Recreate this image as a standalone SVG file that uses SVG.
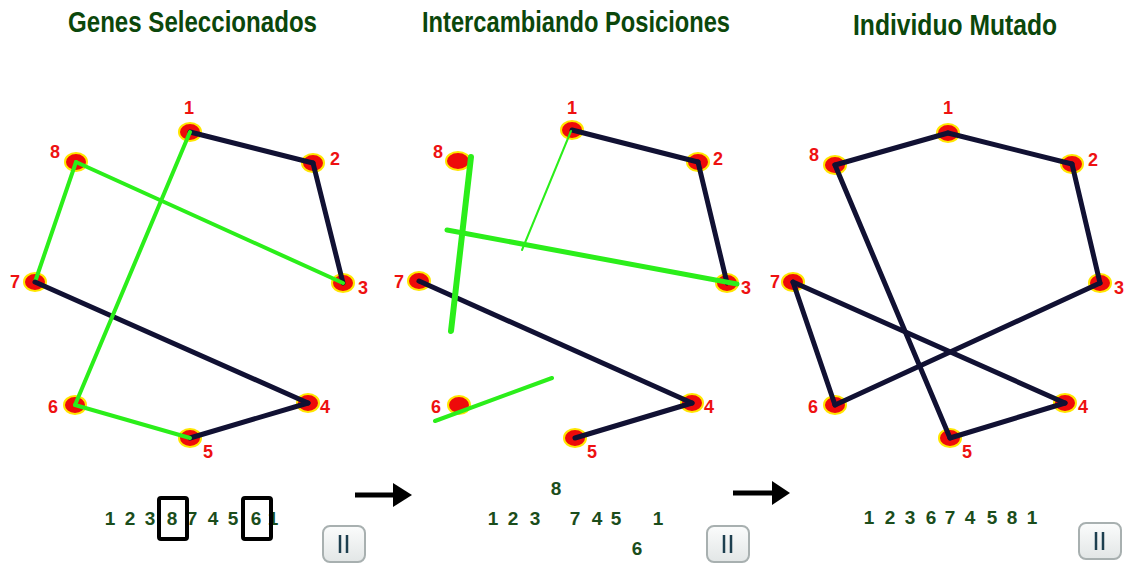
<svg xmlns="http://www.w3.org/2000/svg" width="1125" height="565" viewBox="0 0 1125 565">
<style>
.title{font-family:"Liberation Sans",Arial,sans-serif;font-weight:bold;font-size:29px;fill:#0b470b}
.nd ellipse{fill:#ee0a0a;stroke:#ffe600;stroke-width:2}
.nd text{font-family:"Liberation Sans",Arial,sans-serif;font-weight:bold;font-size:18px;fill:#ee1111;text-anchor:middle}
.dk{stroke:#111133;stroke-width:5;stroke-linecap:round;fill:none}
.gr{stroke:#2bee1a;stroke-width:4;stroke-linecap:round;fill:none}
.num{font-family:"Liberation Sans",Arial,sans-serif;font-weight:bold;font-size:19px;fill:#1b4d1b;text-anchor:middle}
.box{fill:none;stroke:#000;stroke-width:4}
.btn rect{fill:#f0f2f2;stroke:#a8b0b0;stroke-width:2}
.btn line{stroke:#1d3f4f;stroke-width:2.5}
.arr{stroke:#000;stroke-width:5}
</style>
<defs>
<linearGradient id="bg" x1="0" y1="0" x2="0" y2="1"><stop offset="0" stop-color="#fbfcfc"/><stop offset="1" stop-color="#e2e6e6"/></linearGradient>
</defs>
<rect width="1125" height="565" fill="#ffffff"/>
<text class="title" x="68" y="32" textLength="249" lengthAdjust="spacingAndGlyphs">Genes  Seleccionados</text>
<text class="title" x="422" y="32" textLength="308" lengthAdjust="spacingAndGlyphs">Intercambiando Posiciones</text>
<text class="title" x="853" y="35" textLength="204" lengthAdjust="spacingAndGlyphs">Individuo Mutado</text>

<!-- Panel 1 nodes -->
<g id="p1n1" class="nd"><ellipse cx="190" cy="132" rx="11" ry="9"/><text x="189" y="114">1</text></g>
<g id="p1n2" class="nd"><ellipse cx="313" cy="163" rx="11" ry="9"/><text x="335" y="165">2</text></g>
<g id="p1n3" class="nd"><ellipse cx="343" cy="283" rx="11" ry="9"/><text x="363" y="294">3</text></g>
<g id="p1n4" class="nd"><ellipse cx="308" cy="403" rx="11" ry="9"/><text x="325" y="413">4</text></g>
<g id="p1n5" class="nd"><ellipse cx="190" cy="438" rx="11" ry="9"/><text x="208" y="458">5</text></g>
<g id="p1n6" class="nd"><ellipse cx="75" cy="405" rx="11" ry="9"/><text x="53" y="413">6</text></g>
<g id="p1n7" class="nd"><ellipse cx="35" cy="282" rx="11" ry="9"/><text x="15" y="288">7</text></g>
<g id="p1n8" class="nd"><ellipse cx="76" cy="162" rx="11" ry="9"/><text x="55" y="158">8</text></g>

<!-- Panel 2 nodes -->
<g id="p2n1" class="nd"><ellipse cx="572" cy="130" rx="11" ry="9"/><text x="572" y="114">1</text></g>
<g id="p2n2" class="nd"><ellipse cx="698" cy="162" rx="11" ry="9"/><text x="718" y="165">2</text></g>
<g id="p2n3" class="nd"><ellipse cx="727" cy="283" rx="11" ry="9"/><text x="746" y="294">3</text></g>
<g id="p2n4" class="nd"><ellipse cx="692" cy="403" rx="11" ry="9"/><text x="709" y="413">4</text></g>
<g id="p2n5" class="nd"><ellipse cx="575" cy="438" rx="11" ry="9"/><text x="592" y="458">5</text></g>
<g id="p2n6" class="nd"><ellipse cx="459" cy="405" rx="11" ry="9"/><text x="436" y="413">6</text></g>
<g id="p2n7" class="nd"><ellipse cx="419" cy="281" rx="11" ry="9"/><text x="399" y="288">7</text></g>
<g id="p2n8" class="nd"><ellipse cx="458" cy="161" rx="12" ry="9"/><text x="438" y="158">8</text></g>

<!-- Panel 3 nodes -->
<g id="p3n1" class="nd"><ellipse cx="948" cy="133" rx="11" ry="9"/><text x="948" y="114">1</text></g>
<g id="p3n2" class="nd"><ellipse cx="1072" cy="164" rx="11" ry="9"/><text x="1093" y="166">2</text></g>
<g id="p3n3" class="nd"><ellipse cx="1100" cy="283" rx="11" ry="9"/><text x="1119" y="294">3</text></g>
<g id="p3n4" class="nd"><ellipse cx="1065" cy="403" rx="11" ry="9"/><text x="1083" y="413">4</text></g>
<g id="p3n5" class="nd"><ellipse cx="950" cy="438" rx="11" ry="9"/><text x="967" y="458">5</text></g>
<g id="p3n6" class="nd"><ellipse cx="835" cy="405" rx="11" ry="9"/><text x="813" y="413">6</text></g>
<g id="p3n7" class="nd"><ellipse cx="793" cy="282" rx="11" ry="9"/><text x="775" y="288">7</text></g>
<g id="p3n8" class="nd"><ellipse cx="835" cy="165" rx="11" ry="9"/><text x="814" y="161">8</text></g>

<g id="connectors">
<!-- Panel 1 -->
<line class="dk" x1="190" y1="132" x2="313" y2="163"/>
<line class="dk" x1="313" y1="163" x2="343" y2="283"/>
<line class="gr" x1="343" y1="283" x2="76" y2="162"/>
<line class="gr" x1="76" y1="162" x2="35" y2="282"/>
<line class="dk" x1="35" y1="282" x2="308" y2="403"/>
<line class="dk" x1="308" y1="403" x2="190" y2="438"/>
<line class="gr" x1="190" y1="438" x2="75" y2="405"/>
<line class="gr" x1="75" y1="405" x2="190" y2="132"/>
<!-- Panel 2 -->
<line class="dk" x1="572" y1="130" x2="698" y2="162"/>
<line class="dk" x1="698" y1="162" x2="727" y2="283"/>
<line class="dk" x1="419" y1="281" x2="692" y2="403"/>
<line class="dk" x1="692" y1="403" x2="575" y2="438"/>
<line class="gr" style="stroke-width:6" x1="471" y1="157" x2="451" y2="331"/>
<line class="gr" style="stroke-width:5" x1="447" y1="230" x2="737" y2="284"/>
<line class="gr" style="stroke-width:2" x1="571" y1="131" x2="522" y2="250"/>
<line class="gr" x1="435" y1="421" x2="552" y2="378"/>
<!-- Panel 3 -->
<line class="dk" x1="948" y1="133" x2="1072" y2="164"/>
<line class="dk" x1="1072" y1="164" x2="1100" y2="283"/>
<line class="dk" x1="1100" y1="283" x2="835" y2="405"/>
<line class="dk" x1="835" y1="405" x2="793" y2="282"/>
<line class="dk" x1="793" y1="282" x2="1065" y2="403"/>
<line class="dk" x1="1065" y1="403" x2="950" y2="438"/>
<line class="dk" x1="950" y1="438" x2="835" y2="165"/>
<line class="dk" x1="835" y1="165" x2="948" y2="133"/>
<!-- arrows between panels -->
<line class="arr" x1="355" y1="495" x2="396" y2="495"/>
<polygon points="393,483 412,495 393,507" fill="#000"/>
<line class="arr" x1="733" y1="493" x2="774" y2="493"/>
<polygon points="772,481 790,493 772,505" fill="#000"/>
</g>

<!-- Sequences -->
<g id="seq1">
<text class="num" x="110" y="525">1</text>
<text class="num" x="130" y="525">2</text>
<text class="num" x="150" y="525">3</text>
<text class="num" x="172" y="525">8</text>
<text class="num" x="192" y="525">7</text>
<text class="num" x="213" y="525">4</text>
<text class="num" x="233" y="525">5</text>
<text class="num" x="256" y="525">6</text>
<text class="num" x="273" y="525">1</text>
<rect class="box" x="159" y="498" width="28" height="41" rx="2"/>
<rect class="box" x="243" y="498" width="28" height="41" rx="2"/>
</g>
<g id="seq2">
<text class="num" x="556" y="495">8</text>
<text class="num" x="493" y="525">1</text>
<text class="num" x="513" y="525">2</text>
<text class="num" x="535" y="525">3</text>
<text class="num" x="575" y="525">7</text>
<text class="num" x="597" y="525">4</text>
<text class="num" x="616" y="525">5</text>
<text class="num" x="658" y="525">1</text>
<text class="num" x="637" y="555">6</text>
</g>
<g id="seq3">
<text class="num" x="869" y="524">1</text>
<text class="num" x="890" y="524">2</text>
<text class="num" x="910" y="524">3</text>
<text class="num" x="931" y="524">6</text>
<text class="num" x="950" y="524">7</text>
<text class="num" x="970" y="524">4</text>
<text class="num" x="992" y="524">5</text>
<text class="num" x="1012" y="524">8</text>
<text class="num" x="1032" y="524">1</text>
</g>

<!-- Pause buttons -->
<g id="btn1" class="btn"><rect x="323" y="526" width="42" height="36" rx="7" style="fill:url(#bg)"/><line x1="340" y1="535" x2="340" y2="553"/><line x1="347" y1="535" x2="347" y2="553"/></g>
<g id="btn2" class="btn"><rect x="707" y="526" width="42" height="36" rx="7" style="fill:url(#bg)"/><line x1="724" y1="535" x2="724" y2="553"/><line x1="731" y1="535" x2="731" y2="553"/></g>
<g id="btn3" class="btn"><rect x="1079" y="523" width="42" height="36" rx="7" style="fill:url(#bg)"/><line x1="1096" y1="532" x2="1096" y2="550"/><line x1="1103" y1="532" x2="1103" y2="550"/></g>
</svg>
